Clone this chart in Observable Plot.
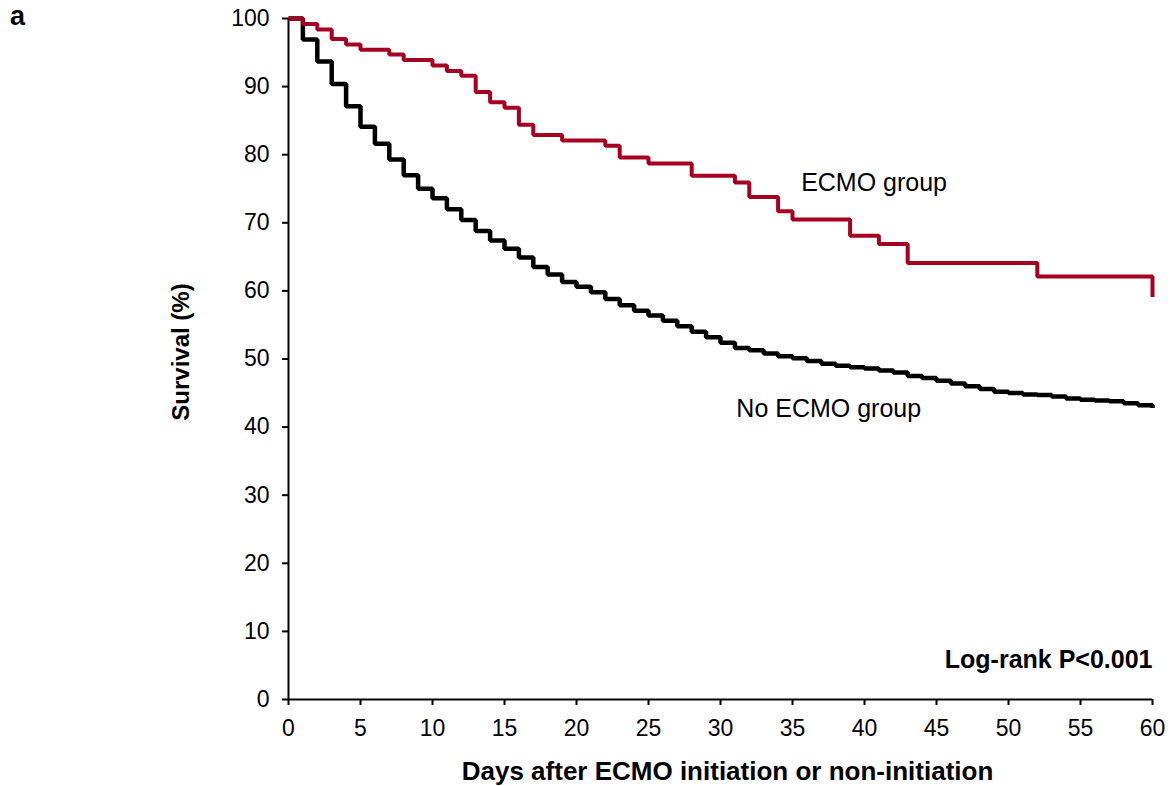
<!DOCTYPE html>
<html>
<head>
<meta charset="utf-8">
<script src="https://cdn.jsdelivr.net/npm/d3@7"></script>
<script src="https://cdn.jsdelivr.net/npm/@observablehq/plot@0.6"></script>
<style>
  html, body { margin: 0; padding: 0; background: #fff; }
  #wrap { position: relative; width: 1171px; height: 786px; font-family: "Liberation Sans", Arial, sans-serif; color: #000; }
  #panel { position: absolute; left: 10px; top: 3px; font-size: 27px; font-weight: bold; line-height: 1; }
  #ylab { position: absolute; left: 181px; top: 352px; font-size: 24px; font-weight: bold; white-space: nowrap; transform: translate(-50%, -50%) rotate(-90deg); line-height: 1; }
  #chart svg { display: block; }
</style>
</head>
<body>
<div id="wrap">
  <div id="chart"></div>
  <div id="panel">a</div>
  <div id="ylab"></div>
</div>
<script>
// ECMO group Kaplan–Meier steps (day, survival %)
const ecmoDays = [0, 1, 2, 3, 4, 5, 7, 8, 10, 11, 12, 13, 14, 15, 16, 17, 19, 22, 23, 25, 28, 31, 32, 34, 35, 39, 41, 43, 52, 60];
const ecmoSurv = [100, 99.2, 98.4, 97.0, 96.2, 95.4, 94.7, 93.9, 93.1, 92.3, 91.6, 89.2, 87.7, 86.9, 84.4, 82.9, 82.1, 81.3, 79.6, 78.7, 76.9, 75.9, 73.8, 71.7, 70.5, 68.1, 66.9, 64.1, 62.1, 59.1];

// No ECMO group steps
const noEcmoDays = [0, 1, 2, 3, 4, 5, 6, 7, 8, 9, 10, 11, 12, 13, 14, 15, 16, 17, 18, 19, 20, 21, 22, 23, 24, 25, 26, 27, 28, 29, 30, 31, 32, 33, 34, 35, 36, 37, 38, 39, 40, 41, 42, 43, 44, 45, 46, 47, 48, 49, 50, 51, 52, 53, 54, 55, 56, 57, 58, 59, 60];
const noEcmoSurv = [100, 96.9, 93.7, 90.4, 87.1, 84.1, 81.6, 79.3, 77.0, 75.0, 73.6, 72.0, 70.4, 68.8, 67.4, 66.2, 64.9, 63.5, 62.4, 61.3, 60.6, 59.8, 58.8, 57.9, 57.1, 56.4, 55.6, 54.8, 54.0, 53.2, 52.4, 51.6, 51.3, 50.8, 50.4, 50.1, 49.7, 49.3, 49.0, 48.8, 48.6, 48.3, 48.0, 47.5, 47.2, 46.8, 46.4, 46.0, 45.6, 45.2, 45.0, 44.8, 44.7, 44.5, 44.2, 44.0, 43.9, 43.8, 43.5, 43.2, 42.8];

const xTicks = [0, 5, 10, 15, 20, 25, 30, 35, 40, 45, 50, 55, 60];
const yTicks = [0, 10, 20, 30, 40, 50, 60, 70, 80, 90, 100];

const groupNames = ["ECMO group", "No ECMO group"];
const groupLabelX = [35.6, 31.1];
const groupLabelY = [75.8, 42.6];
const pText = "Log-rank P<0.001";
const xLabel = "Days after ECMO initiation or non-initiation";
const yLabel = "Survival (%)";

const ecmo = ecmoDays.map((d, i) => ({day: d, surv: ecmoSurv[i]}));
const noEcmo = noEcmoDays.map((d, i) => ({day: d, surv: noEcmoSurv[i]}));
const labels = groupNames.map((n, i) => ({name: n, x: groupLabelX[i], y: groupLabelY[i]}));

const chart = Plot.plot({
  width: 1171,
  height: 786,
  marginLeft: 288,
  marginRight: 19,
  marginTop: 18,
  marginBottom: 87,
  style: {fontFamily: "'Liberation Sans', Arial, sans-serif", color: "#000", background: "#fff", overflow: "visible"},
  x: {domain: [0, 60]},
  y: {domain: [0, 100]},
  marks: [
    Plot.axisX({ticks: xTicks, tickSize: 6, tickPadding: 14, fontSize: 23, strokeWidth: 2, label: null}),
    Plot.axisY({ticks: yTicks, tickSize: 6, tickPadding: 13, fontSize: 23, strokeWidth: 2, label: null}),
    Plot.ruleY([0], {strokeWidth: 2, stroke: "#000"}),
    Plot.ruleX([0], {strokeWidth: 2, stroke: "#000"}),
    Plot.line(noEcmo, {x: "day", y: "surv", curve: "step-after", stroke: "#000", strokeWidth: 4.5, strokeLinejoin: "miter", strokeLinecap: "butt"}),
    Plot.line(ecmo, {x: "day", y: "surv", curve: "step-after", stroke: "#a50021", strokeWidth: 4, strokeLinejoin: "miter", strokeLinecap: "butt"}),
    Plot.text(labels, {x: "x", y: "y", text: "name", textAnchor: "start", fontSize: 25, fill: "#000"}),
    Plot.text([pText], {frameAnchor: "bottom-right", dy: -32, textAnchor: "end", fontSize: 25, fontWeight: "bold", fill: "#000"}),
    Plot.text([xLabel], {frameAnchor: "bottom", dx: 7, dy: 80, fontSize: 26, fontWeight: "bold", fill: "#000"})
  ]
});
document.getElementById("chart").appendChild(chart);
document.getElementById("ylab").textContent = yLabel;
</script>
</body>
</html>
